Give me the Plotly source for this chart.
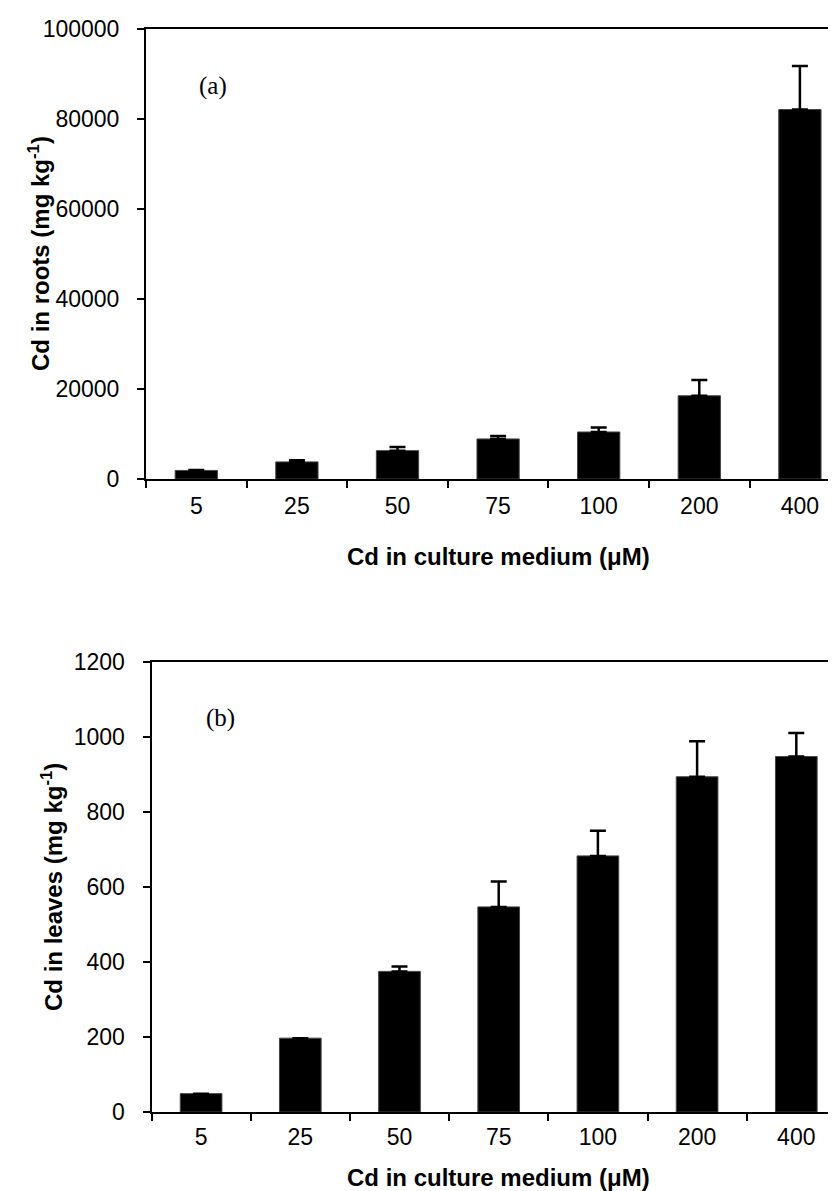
import plotly.graph_objects as go

categories = ["5", "25", "50", "75", "100", "200", "400"]
roots_vals = [1900, 3800, 6300, 8900, 10450, 18500, 82100]
roots_err = [100, 350, 800, 650, 1000, 3500, 9700]
leaves_vals = [49, 197, 375, 547, 683, 894, 948]
leaves_err = [0, 0, 13, 68, 67, 95, 63]
roots_ticks = [0, 20000, 40000, 60000, 80000, 100000]
roots_ticktext = ["0", "20000", "40000", "60000", "80000", "100000"]
leaves_ticks = [0, 200, 400, 600, 800, 1000, 1200]
leaves_ticktext = ["0", "200", "400", "600", "800", "1000", "1200"]

W, H = 836, 1191
FONT = "Liberation Sans"

fig = go.Figure()

def bar(vals, err, xa, ya):
    return go.Bar(
        x=categories, y=vals, xaxis=xa, yaxis=ya, width=0.42,
        marker=dict(color="black", line=dict(color="#444", width=1)),
        error_y=dict(type="data", symmetric=False, array=err,
                     arrayminus=[0] * len(err), color="black",
                     thickness=2.5, width=8),
        showlegend=False,
    )

fig.add_trace(bar(roots_vals, roots_err, "x", "y"))
fig.add_trace(bar(leaves_vals, leaves_err, "x2", "y2"))

def px_x(p):
    return p / W

def px_y(p):
    return 1 - p / H

axis_common = dict(showline=True, linecolor="black", linewidth=2,
                   ticks="outside", ticklen=7, tickwidth=1.5, tickcolor="black",
                   showgrid=False, zeroline=False,
                   tickfont=dict(family=FONT, size=23, color="black"))

fig.update_layout(
    xaxis=dict(domain=[px_x(138), 1], anchor="y", type="category",
               range=[-0.5, -0.5 + (836 - 138) / 100.6], tickson="boundaries",
               mirror=True, ticklabelstandoff=5, **axis_common),
    yaxis=dict(domain=[px_y(471), px_y(21)], anchor="x", range=[0, 100000],
               tickvals=roots_ticks, ticktext=roots_ticktext,
               ticklabelstandoff=13, **axis_common),
    xaxis2=dict(domain=[px_x(143.5), 1], anchor="y2", type="category",
                range=[-0.5, -0.5 + (836 - 143.5) / 99.2], tickson="boundaries",
                mirror=True, ticklabelstandoff=3, **axis_common),
    yaxis2=dict(domain=[px_y(1104), px_y(654)], anchor="x2", range=[0, 1200],
                tickvals=leaves_ticks, ticktext=leaves_ticktext,
                ticklabelstandoff=13, **axis_common),
)

ann = []
title_font = dict(family=FONT, size=24, color="black")
common = dict(xref="paper", yref="paper", showarrow=False,
              xanchor="center", yanchor="middle")
ann.append(dict(text="<b>Cd in culture medium (μM)</b>", x=px_x(490), y=px_y(548),
                font=title_font, **common))
ann.append(dict(text="<b>Cd in culture medium (μM)</b>", x=px_x(490), y=px_y(1169),
                font=title_font, **common))
ann.append(dict(text="<b>Cd in roots (mg kg<sup>-1</sup>)</b>", x=px_x(31), y=px_y(246),
                textangle=-90, font=title_font, **common))
ann.append(dict(text="<b>Cd in leaves (mg kg<sup>-1</sup>)</b>", x=px_x(44), y=px_y(879),
                textangle=-90, font=title_font, **common))
ann.append(dict(text="(a)", x=px_x(205), y=px_y(78),
                font=dict(family="Liberation Serif", size=25, color="black"), **common))
ann.append(dict(text="(b)", x=px_x(212), y=px_y(710),
                font=dict(family="Liberation Serif", size=25, color="black"), **common))

fig.update_layout(
    width=W, height=H, margin=dict(l=0, r=0, t=0, b=0, autoexpand=False),
    paper_bgcolor="white", plot_bgcolor="white", bargap=0.58,
    annotations=ann,
)

fig.write_html("out.html")
